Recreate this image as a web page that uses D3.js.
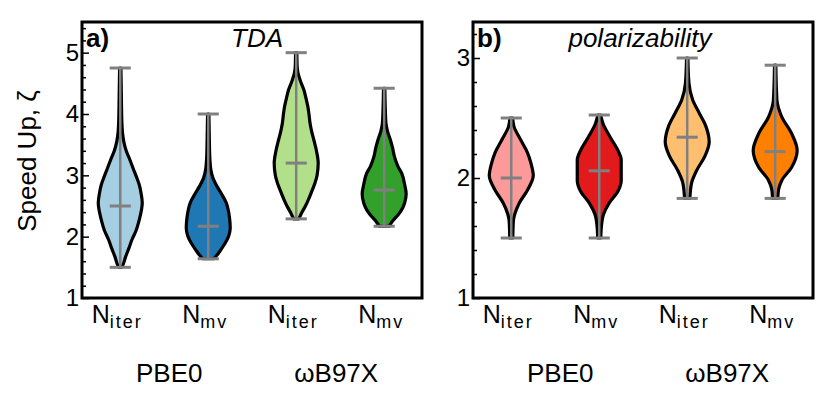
<!DOCTYPE html>
<html>
<head>
<meta charset="utf-8">
<script src="https://cdn.jsdelivr.net/npm/d3@7"></script>
<style>
  body { margin: 0; background: #fff; }
  svg { display: block; font-family: "Liberation Sans", Arial, sans-serif; }
</style>
</head>
<body>
<div id="graph"></div>
<script>
// categories
const functionals = ["PBE0", "ωB97X"];
const subscripts = ["iter", "mv", "iter", "mv"];

// panel a) TDA
const tdaMin = [1.5, 1.64, 2.29, 2.17];
const tdaMedian = [2.5, 2.17, 3.2, 2.76];
const tdaMax = [4.75, 4.0, 5.0, 4.42];
// density profiles: [value, relative width]
const tdaDensity = [
  [[1.5,0.07],[1.52,0.1],[1.67,0.24],[1.8,0.38],[1.95,0.53],[2.1,0.72],[2.27,0.86],[2.45,0.97],[2.55,1.0],[2.7,0.95],[2.85,0.86],[2.97,0.74],[3.1,0.6],[3.25,0.44],[3.4,0.27],[3.55,0.16],[3.7,0.1],[3.9,0.07],[4.3,0.05],[4.75,0.03]],
  [[1.64,0.25],[1.7,0.4],[1.8,0.6],[1.9,0.78],[2.0,0.92],[2.14,1.0],[2.3,0.97],[2.45,0.9],[2.55,0.82],[2.7,0.6],[2.82,0.4],[2.95,0.22],[3.09,0.12],[3.3,0.07],[3.6,0.05],[4.0,0.03]],
  [[2.29,0.12],[2.39,0.25],[2.5,0.42],[2.6,0.55],[2.75,0.72],[2.87,0.85],[3.0,0.95],[3.2,1.0],[3.4,0.92],[3.58,0.8],[3.72,0.7],[3.85,0.63],[4.0,0.58],[4.12,0.53],[4.25,0.45],[4.39,0.35],[4.55,0.18],[4.67,0.08],[4.8,0.04],[5.0,0.03]],
  [[2.17,0.22],[2.27,0.42],[2.35,0.62],[2.44,0.8],[2.55,0.93],[2.7,1.0],[2.85,0.93],[3.03,0.8],[3.15,0.62],[3.3,0.47],[3.45,0.38],[3.58,0.28],[3.72,0.15],[3.85,0.08],[4.1,0.05],[4.42,0.03]]
];

// panel b) polarizability
const polMin = [1.5, 1.5, 1.83, 1.83];
const polMedian = [2.0, 2.06, 2.34, 2.22];
const polMax = [2.5, 2.525, 3.0, 2.94];
const polDensity = [
  [[1.5,0.07],[1.58,0.08],[1.65,0.1],[1.7,0.16],[1.79,0.36],[1.9,0.74],[2.02,1.0],[2.12,0.9],[2.21,0.74],[2.32,0.42],[2.43,0.12],[2.5,0.06]],
  [[1.5,0.07],[1.6,0.1],[1.7,0.2],[1.79,0.45],[1.89,0.85],[1.98,1.0],[2.06,1.0],[2.15,1.0],[2.23,0.85],[2.34,0.5],[2.45,0.18],[2.525,0.06]],
  [[1.83,0.12],[1.9,0.15],[1.96,0.2],[2.07,0.45],[2.18,0.8],[2.3,1.0],[2.43,0.85],[2.54,0.55],[2.65,0.25],[2.79,0.08],[3.0,0.03]],
  [[1.83,0.12],[1.9,0.15],[1.98,0.3],[2.09,0.75],[2.23,1.0],[2.37,0.75],[2.51,0.3],[2.65,0.08],[2.94,0.03]]
];

const tdaColors = ["#a6cee3", "#1f78b4", "#b2df8a", "#33a02c"];
const polColors = ["#fb9a99", "#e31a1c", "#fdbf6f", "#ff7f00"];

const width = 829, height = 394;
const svg = d3.select("#graph").append("svg")
  .attr("width", width).attr("height", height);

const plotTop = 22, plotBottom = 298;

function drawPanel(opts) {
  let xscale = d3.scaleLinear().domain([0.565, 4.43]).range([opts.left, opts.left + 340]);
  let yscale = d3.scaleLinear().domain(opts.ydomain).range([plotBottom, plotTop]);
  let g = svg.append("g");
  let halfW = 0.25; // max violin half width in category units
  let capW = 0.12;

  opts.density.forEach((prof, i) => {
    let cx = i + 1;
    let area = d3.area()
      .curve(d3.curveMonotoneY)
      .y(d => yscale(d[0]))
      .x0(d => xscale(cx - d[1] * halfW))
      .x1(d => xscale(cx + d[1] * halfW));
    g.append("path")
      .attr("d", area(prof))
      .attr("fill", opts.colors[i])
      .attr("stroke", "#000")
      .attr("stroke-width", 3.2)
      .attr("stroke-linejoin", "round");
  });

  // min / median / max markers
  let grey = "#808080";
  for (let i = 0; i < 4; i++) {
    let cx = i + 1;
    g.append("line")
      .attr("x1", xscale(cx)).attr("x2", xscale(cx))
      .attr("y1", yscale(opts.min[i])).attr("y2", yscale(opts.max[i]))
      .attr("stroke", grey).attr("stroke-width", 2.5);
    [opts.min[i], opts.median[i], opts.max[i]].forEach(v => {
      g.append("line")
        .attr("x1", xscale(cx - capW)).attr("x2", xscale(cx + capW))
        .attr("y1", yscale(v)).attr("y2", yscale(v))
        .attr("stroke", grey).attr("stroke-width", 3);
    });
  }

  // y axis with inward ticks
  let major = d3.range(Math.ceil(opts.ydomain[0]), Math.floor(opts.ydomain[1]) + 1);
  let minor = d3.range(opts.ydomain[0], opts.ydomain[1] + 0.001, 0.2)
    .map(v => Math.round(v * 10) / 10)
    .filter(v => !major.includes(v));
  let yAxis = g.append("g")
    .attr("transform", "translate(" + opts.left + ",0)")
    .call(d3.axisLeft(yscale).tickValues(major).tickFormat(d3.format("d"))
      .tickSize(-7).tickPadding(3));
  yAxis.select(".domain").remove();
  yAxis.selectAll("text").attr("font-size", 24).attr("fill", "#000")
    .attr("font-family", "Liberation Sans, Arial, sans-serif");
  yAxis.selectAll("line").attr("stroke", "#000").attr("stroke-width", 1.5);
  let yMinor = g.append("g")
    .attr("transform", "translate(" + opts.left + ",0)")
    .call(d3.axisLeft(yscale).tickValues(minor).tickFormat("").tickSize(-4));
  yMinor.select(".domain").remove();
  yMinor.selectAll("line").attr("stroke", "#000").attr("stroke-width", 1.5);

  // frame
  g.append("rect")
    .attr("x", opts.left).attr("y", plotTop)
    .attr("width", 340).attr("height", plotBottom - plotTop)
    .attr("fill", "none").attr("stroke", "#000").attr("stroke-width", 3);

  // x tick labels N_iter / N_mv
  subscripts.forEach((s, i) => {
    let t = g.append("text")
      .attr("x", xscale(i + 1) - 3).attr("y", 323)
      .attr("text-anchor", "middle").attr("font-size", 25);
    t.append("tspan").text("N");
    t.append("tspan").attr("dy", 5).attr("font-size", 18)
      .attr("letter-spacing", 2).text(s);
  });

  // functional group labels
  let groupShift = [5, -4];
  functionals.forEach((f, k) => {
    g.append("text")
      .attr("x", xscale(2 * k + 1.5) + groupShift[k]).attr("y", 382)
      .attr("text-anchor", "middle").attr("font-size", 26)
      .text(f);
  });

  // panel letter and title
  g.append("text").attr("x", opts.left + 4).attr("y", 47)
    .attr("font-size", 26).attr("font-weight", "bold").text(opts.letter);
  g.append("text").attr("x", opts.left + opts.titleX).attr("y", 47)
    .attr("font-size", 26).attr("font-style", "italic")
    .attr("text-anchor", "middle").text(opts.title);
}

drawPanel({
  left: 82, ydomain: [1, 5.5], density: tdaDensity, colors: tdaColors,
  min: tdaMin, median: tdaMedian, max: tdaMax,
  letter: "a)", title: "TDA", titleX: 175
});
drawPanel({
  left: 473, ydomain: [1, 3.3], density: polDensity, colors: polColors,
  min: polMin, median: polMedian, max: polMax,
  letter: "b)", title: "polarizability", titleX: 167
});

// y axis label
svg.append("text")
  .attr("transform", "translate(36,161) rotate(-90)")
  .attr("text-anchor", "middle").attr("font-size", 26)
  .text("Speed Up, ζ");
</script>
</body>
</html>
